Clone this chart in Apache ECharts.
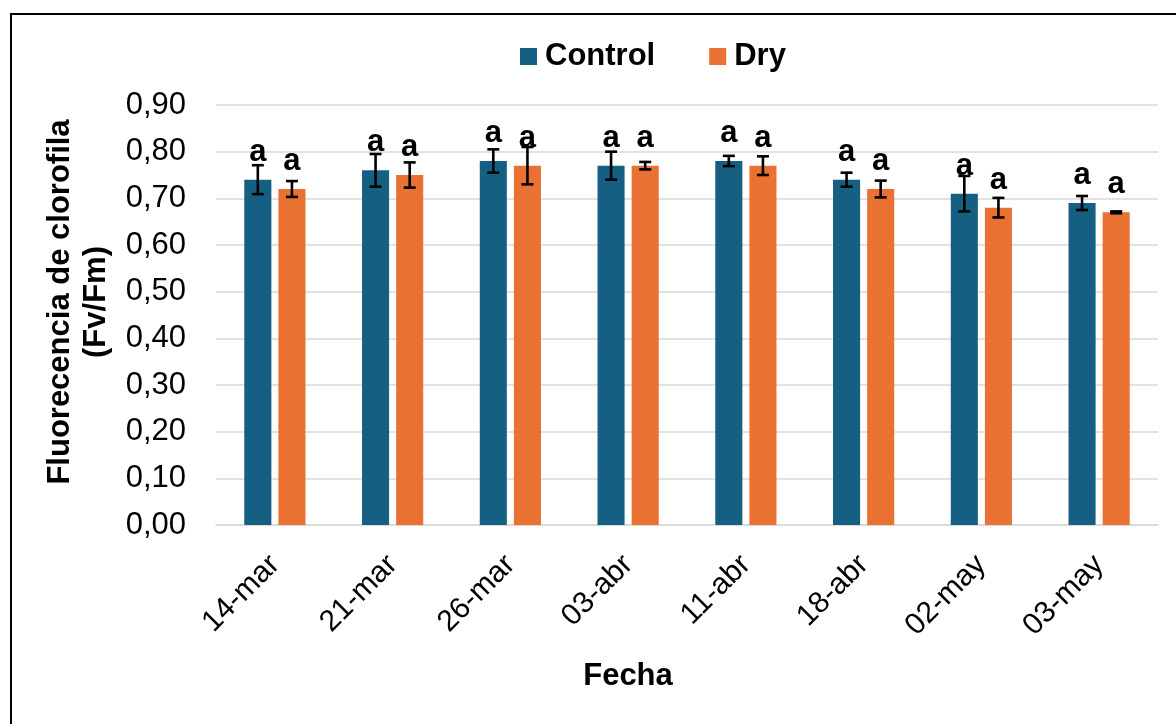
<!DOCTYPE html>
<html>
<head>
<meta charset="utf-8">
<script src="https://cdn.jsdelivr.net/npm/echarts@6/dist/echarts.min.js"></script>
<style>
html,body{margin:0;padding:0;background:#fff;}
#chart{width:1176px;height:724px;}
</style>
</head>
<body>
<div id="chart"></div>
<script>
const categories = ['14-mar','21-mar','26-mar','03-abr','11-abr','18-abr','02-may','03-may'];
const controlValues = [0.74,0.76,0.78,0.77,0.78,0.74,0.71,0.69];
const dryValues = [0.72,0.75,0.77,0.77,0.77,0.72,0.68,0.67];
const controlErr = [0.031,0.035,0.025,0.030,0.011,0.015,0.038,0.015];
const dryErr = [0.017,0.027,0.040,0.008,0.020,0.018,0.021,0.002];
const controlLetters = ['a','a','a','a','a','a','a','a'];
const dryLetters = ['a','a','a','a','a','a','a','a'];
const yTicks = {min:0, max:0.9, interval:0.1};

const FONT = '"Liberation Sans", Arial, sans-serif';
const BAR_W = 0.23;
const BAR_GAP = 0.26;
const BLUE = '#156082';
const ORANGE = '#E97132';

function errRender(sign){
  return function(params, api){
    const idx = api.value(0), v = api.value(1), e = api.value(2);
    const c = api.coord([idx, v]);
    const band = api.size([1,0])[0];
    const bw = band*BAR_W, gap = bw*BAR_GAP;
    const x = c[0] + sign*(bw+gap)/2;
    const top = api.coord([idx, v+e])[1];
    const bot = api.coord([idx, v-e])[1];
    const cap = 6;
    const st = {stroke:'#000', lineWidth:2.6};
    return {type:'group', children:[
      {type:'line', shape:{x1:x,y1:top,x2:x,y2:bot}, style:st},
      {type:'line', shape:{x1:x-cap,y1:top,x2:x+cap,y2:top}, style:st},
      {type:'line', shape:{x1:x-cap,y1:bot,x2:x+cap,y2:bot}, style:st}
    ]};
  };
}

const chart = echarts.init(document.getElementById('chart'));
chart.setOption({
  backgroundColor:'#fff',
  animation:false,
  textStyle:{fontFamily:FONT},
  graphic:[{type:'rect', shape:{x:11,y:14,width:1300,height:900}, style:{fill:'none', stroke:'#000', lineWidth:2}, silent:true}],
  legend:{
    data:['Control','Dry'],
    left:515, top:36,
    icon:'rect', itemWidth:17, itemHeight:17, itemGap:54,
    textStyle:{fontFamily:FONT, fontSize:31, fontWeight:'bold', color:'#000', padding:[0,0,0,3]}
  },
  grid:{left:216, right:18, top:105, bottom:199, containLabel:false},
  xAxis:{
    type:'category', data:categories,
    axisLine:{lineStyle:{color:'#d9d9d9', width:1.6}},
    axisTick:{show:false},
    axisLabel:{rotate:45, fontSize:30, color:'#000', fontFamily:FONT, margin:35, interval:0},
    name:'Fecha', nameLocation:'middle', nameGap:136,
    nameTextStyle:{fontSize:31, fontWeight:'bold', color:'#000', fontFamily:FONT, padding:[0,118,0,0]}
  },
  yAxis:{
    type:'value', min:yTicks.min, max:yTicks.max, interval:yTicks.interval,
    axisLine:{show:false}, axisTick:{show:false},
    splitLine:{lineStyle:{color:'#d9d9d9', width:1.6}},
    axisLabel:{fontSize:31, color:'#000', fontFamily:FONT, margin:30,
      formatter:v=>v.toFixed(2).replace('.',',')},
    name:'Fluorecencia de clorofila\n(Fv/Fm)', nameLocation:'middle', nameGap:100, nameRotate:90,
    nameTextStyle:{fontSize:31, fontWeight:'bold', color:'#000', fontFamily:FONT, lineHeight:36, padding:[0,0,0,26]}
  },
  series:[
    {name:'Control', type:'bar', data:controlValues, barWidth:(BAR_W*100)+'%', barGap:(BAR_GAP*100)+'%',
      itemStyle:{color:BLUE},
      label:{show:true, position:'top', distance:12, formatter:p=>controlLetters[p.dataIndex],
        fontSize:31, fontWeight:'bold', color:'#000', fontFamily:FONT}},
    {name:'Dry', type:'bar', data:dryValues, barWidth:(BAR_W*100)+'%',
      itemStyle:{color:ORANGE},
      label:{show:true, position:'top', distance:12, formatter:p=>dryLetters[p.dataIndex],
        fontSize:31, fontWeight:'bold', color:'#000', fontFamily:FONT}},
    {name:'ControlErr', type:'custom', renderItem:errRender(-1), z:5,
      encode:{x:0,y:1},
      data:categories.map((c,i)=>[i, controlValues[i], controlErr[i]])},
    {name:'DryErr', type:'custom', renderItem:errRender(1), z:5,
      encode:{x:0,y:1},
      data:categories.map((c,i)=>[i, dryValues[i], dryErr[i]])}
  ]
});
</script>
</body>
</html>
